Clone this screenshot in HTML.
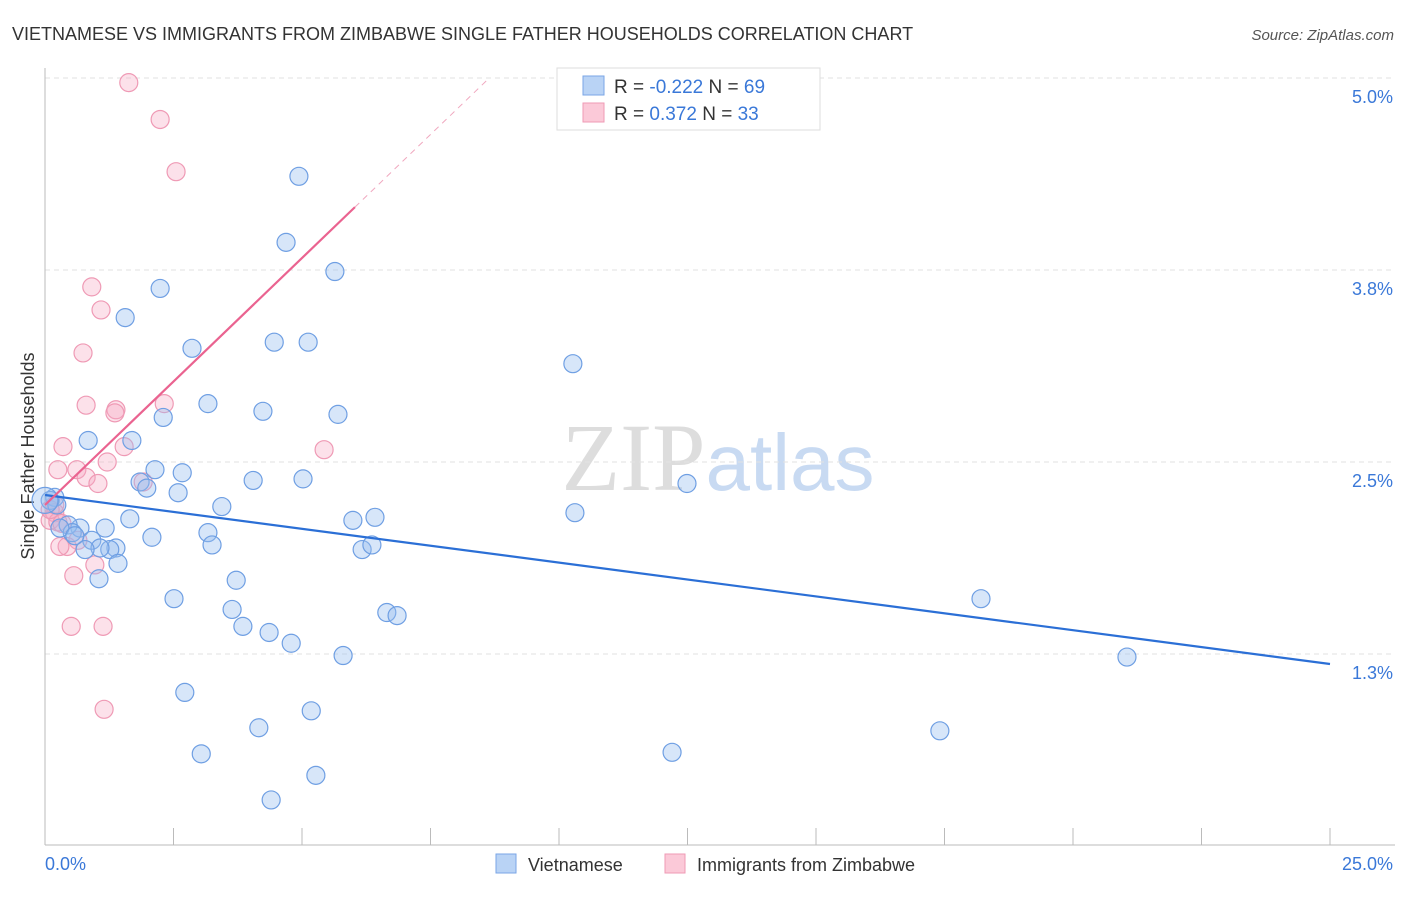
<!DOCTYPE html>
<html><head><meta charset="utf-8"><style>
body{margin:0;background:#fff;font-family:"Liberation Sans",sans-serif;}
svg text{font-family:"Liberation Sans",sans-serif;}
</style></head><body>
<svg id="chart" width="1406" height="892" xmlns="http://www.w3.org/2000/svg">
<text x="12" y="40" font-size="18" fill="#333">VIETNAMESE VS IMMIGRANTS FROM ZIMBABWE SINGLE FATHER HOUSEHOLDS CORRELATION CHART</text>
<text x="1394" y="40" font-size="15" fill="#555" font-style="italic" text-anchor="end">Source: ZipAtlas.com</text>
<text transform="translate(34,456) rotate(-90)" font-size="18" fill="#333" text-anchor="middle">Single Father Households</text>
<text x="718" y="490" font-size="96" text-anchor="middle"><tspan fill="#ddd" font-family="Liberation Serif">ZIP</tspan><tspan fill="#c8daf2" font-size="80">atlas</tspan></text>
<g id="grid"></g><g id="axes"></g><g id="pts"></g><g id="trend"></g>
<g>
<rect x="557" y="68" width="263" height="62" fill="#fff" stroke="#ddd"/>
<rect x="583" y="76" width="21" height="19" fill="#b9d3f5" stroke="#7aa6e6"/>
<rect x="583" y="103" width="21" height="19" fill="#fbc9d8" stroke="#ef9ab5"/>
<text x="614" y="93" font-size="19" fill="#333">R = <tspan fill="#3a78d8">-0.222</tspan>   N = <tspan fill="#3a78d8">69</tspan></text>
<text x="614" y="120" font-size="19" fill="#333">R =  <tspan fill="#3a78d8"> 0.372</tspan>   N = <tspan fill="#3a78d8">33</tspan></text>
</g>
<g>
<rect x="496" y="854" width="20" height="19" fill="#b9d3f5" stroke="#7aa6e6"/>
<text x="528" y="871" font-size="18" fill="#333">Vietnamese</text>
<rect x="665" y="854" width="20" height="19" fill="#fbc9d8" stroke="#ef9ab5"/>
<text x="697" y="871" font-size="18" fill="#333">Immigrants from Zimbabwe</text>
</g>
</svg>
<script>
const blueX=[0.19,0.10,0.23,0.84,1.56,2.24,2.86,2.30,1.69,3.17,4.24,4.46,5.12,4.94,4.69,5.64,5.70,10.27,12.49,10.31,18.21,21.05,17.41,12.20,2.14,2.67,1.85,1.98,2.59,3.44,4.05,5.02,1.65,1.17,0.68,0.45,0.53,0.91,1.38,2.08,3.17,3.25,1.26,1.07,0.78,1.42,1.05,3.72,5.99,6.42,6.17,6.36,2.51,3.64,3.85,4.36,4.79,5.80,6.65,6.85,2.72,5.18,4.16,3.04,5.27,4.40,0.29,0.58,0.0];
const blueY=[2.27,2.25,2.22,2.64,3.44,3.63,3.24,2.79,2.64,2.88,2.83,3.28,3.28,4.36,3.93,3.74,2.81,3.14,2.36,2.17,1.61,1.23,0.75,0.61,2.45,2.43,2.37,2.33,2.30,2.21,2.38,2.39,2.13,2.07,2.07,2.09,2.04,1.99,1.94,2.01,2.04,1.96,1.93,1.94,1.93,1.84,1.74,1.73,2.12,2.14,1.93,1.96,1.61,1.54,1.43,1.39,1.32,1.24,1.52,1.50,1.00,0.88,0.77,0.60,0.46,0.30,2.07,2.02,2.25];
const pinkX=[1.63,2.24,2.55,0.91,1.09,0.74,0.80,1.38,1.36,2.32,0.35,1.54,5.43,0.25,0.62,1.21,0.80,1.03,1.91,0.19,0.10,0.25,0.33,0.64,0.43,0.29,0.97,0.56,0.51,1.13,1.15,0.19,0.10];
const pinkY=[4.97,4.73,4.39,3.64,3.49,3.21,2.87,2.84,2.82,2.88,2.60,2.60,2.58,2.45,2.45,2.50,2.40,2.36,2.37,2.17,2.12,2.11,2.10,1.99,1.95,1.95,1.83,1.76,1.43,1.43,0.89,2.22,2.19];
const yTicks=[5.0,3.75,2.5,1.25];
const yTickLabels=["5.0%","3.8%","2.5%","1.3%"];
const xTicks=[0,2.5,5,7.5,10,12.5,15,17.5,20,22.5,25];
const blueTrend=[2.285,1.185];
const pinkTrend=[2.22,0.3216];

const NS="http://www.w3.org/2000/svg";
const sx=v=>45+v*51.4;
const sy=v=>270-(v-3.75)*153.6;
function mk(parent,tag,attrs){const e=document.createElementNS(NS,tag);for(const k in attrs)e.setAttribute(k,attrs[k]);document.getElementById(parent).appendChild(e);return e;}
yTicks.forEach((t,i)=>{
 const l=mk('grid','line',{x1:45,x2:1395,y1:sy(t),y2:sy(t),stroke:'#e2e2e2','stroke-dasharray':'5,4'});
 
 
 const tx=mk('grid','text',{x:1393,y:sy(t)+25,'font-size':18,fill:'#3a78d8','text-anchor':'end'});
 tx.textContent=yTickLabels[i];
 
 
});
const ya=mk('axes','line',{x1:45,x2:45,y1:68,y2:845,stroke:'#bbb'});


const xa=mk('axes','line',{x1:45,x2:1395,y1:845,y2:845,stroke:'#bbb'});


xTicks.forEach(t=>{
 const l=mk('axes','line',{x1:sx(t),x2:sx(t),y1:828,y2:845,stroke:'#bbb'});
 
 
});
const xl0=mk('axes','text',{x:45,y:870,'font-size':18,fill:'#3a78d8'});xl0.textContent="0.0%";


const xl1=mk('axes','text',{x:1393,y:870,'font-size':18,fill:'#3a78d8','text-anchor':'end'});xl1.textContent="25.0%";


pinkX.forEach((x,i)=>{
 const c=mk('pts','circle',{cx:sx(x),cy:sy(pinkY[i]),r:9,fill:'rgba(246,170,195,0.35)',stroke:'#ef9ab5','stroke-width':1.2});
 
 
});
blueX.forEach((x,i)=>{
 const c=mk('pts','circle',{cx:sx(x),cy:sy(blueY[i]),r:i===blueX.length-1?13:9,fill:'rgba(150,190,240,0.38)',stroke:'#6f9fe3','stroke-width':1.2});
 
 
});
const bt=mk('trend','line',{x1:sx(0),y1:sy(blueTrend[0]),x2:sx(25),y2:sy(blueTrend[1]),stroke:'#2b6fd6','stroke-width':2.2});


const pEnd=6.03, pDash=(5.0-pinkTrend[0])/pinkTrend[1];
const pt=mk('trend','line',{x1:sx(0),y1:sy(pinkTrend[0]),x2:sx(pEnd),y2:sy(pinkTrend[0]+pinkTrend[1]*pEnd),stroke:'#ea6390','stroke-width':2.2});


const pd=mk('trend','line',{x1:sx(pEnd),y1:sy(pinkTrend[0]+pinkTrend[1]*pEnd),x2:sx(pDash),y2:sy(5.0),stroke:'#f0a8bf','stroke-width':1,'stroke-dasharray':'6,5'});


</script>
</body></html>
